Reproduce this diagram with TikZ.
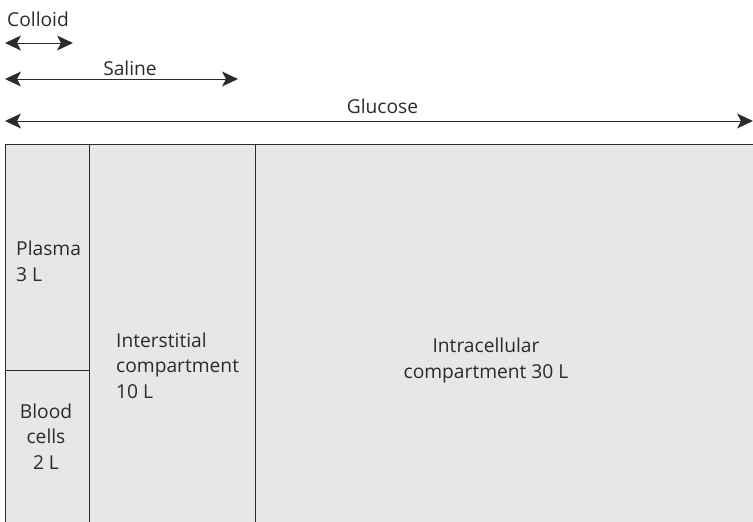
\documentclass[tikz,border=0pt]{standalone}
\usepackage{fontspec}
\setmainfont{Open Sans}
\usetikzlibrary{arrows.meta}
\definecolor{boxfill}{HTML}{E6E7E8}
\definecolor{inkc}{HTML}{2B2B2B}
\begin{document}
\begin{tikzpicture}[x=1pt,y=-1pt,
  lbl/.style={font=\fontsize{19.2}{25.5}\selectfont, text=inkc, inner sep=0pt, align=left},
  span/.style={draw=inkc, line width=1pt},
  headl/.style={fill=inkc},
  wall/.style={draw=inkc, line width=1pt}]
\useasboundingbox (0,0) rectangle (753,522);
% compartments
\fill[boxfill] (5,144) rectangle (770,540);
\draw[wall] (770,144) -- (5,144) -- (5,540);
\draw[wall] (89,144) -- (89,540);
\draw[wall] (255,144) -- (255,540);
\draw[wall] (5,370) -- (89,370);
% arrows
\coordinate (cL) at (5,43); \coordinate (cR) at (73,43);
\coordinate (sL) at (5,79); \coordinate (sR) at (238,79);
\coordinate (gL) at (5,121); \coordinate (gR) at (753,121);
\foreach \a/\b in {cL/cR, sL/sR, gL/gR}{
  \draw[span] ([xshift=10pt]\a) -- ([xshift=-10pt]\b);
  \fill[headl] (\a) -- ++(16,-7.5) -- ++(-4,7.5) -- ++(4,7.5) -- cycle;
  \fill[headl] (\b) -- ++(-16,-7.5) -- ++(4,7.5) -- ++(-4,7.5) -- cycle;
}
\node[lbl, anchor=base west] (colloid) at (7,27) {Colloid};
\node[lbl, anchor=base] (saline) at (130,75) {Saline};
\node[lbl, anchor=base] (glucose) at (382.5,113) {Glucose};
% texts
\node[lbl, anchor=base west] (plasma) at (16,281) {Plasma\\3 L};
\node[lbl, anchor=base west] (inter) at (116,398) {Interstitial\\compartment\\10 L};
\node[lbl, anchor=base, align=center] (blood) at (46,469) {Blood\\cells\\2 L};
\node[lbl, anchor=base, align=center] (intra) at (486,378) {Intracellular\\compartment 30 L};
\end{tikzpicture}
\end{document}
